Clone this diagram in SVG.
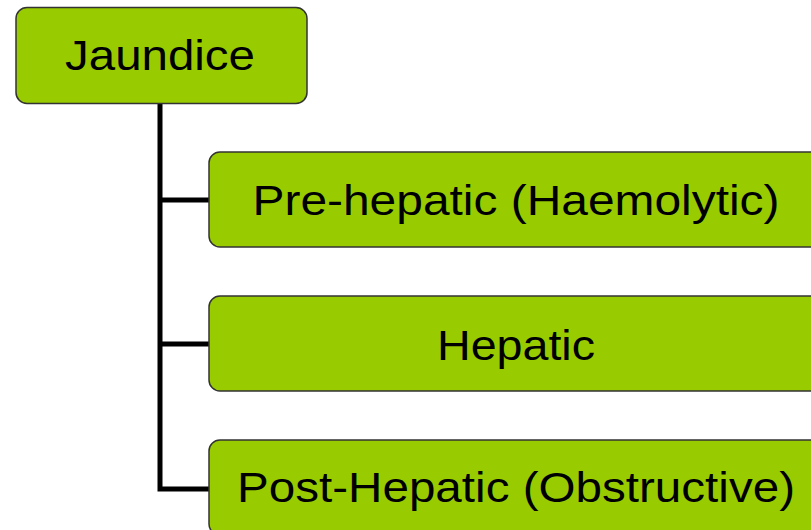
<svg xmlns="http://www.w3.org/2000/svg" width="811" height="530" viewBox="0 0 811 530">
  <style>
    .box { fill: #99cc00; stroke: #333333; stroke-width: 1.5; }
    .lbl { font-family: "Liberation Sans", Arial, sans-serif; font-size: 43px; fill: #000000; text-anchor: middle; }
    .conn { fill: none; stroke: #000000; stroke-width: 5; }
  </style>
  <rect width="811" height="530" fill="#ffffff"/>
  <g id="connectors">
    <path class="conn" d="M160,104 V489 H209"/>
    <path class="conn" d="M160,200 H209"/>
    <path class="conn" d="M160,344 H209"/>
  </g>
  <g id="jaundice">
    <rect class="box" x="16" y="7.5" width="291" height="96" rx="11" ry="11"/>
    <text class="lbl" x="160" y="70" textLength="190" lengthAdjust="spacingAndGlyphs">Jaundice</text>
  </g>
  <g id="prehepatic">
    <rect class="box" x="209" y="152" width="614" height="95" rx="11" ry="11"/>
    <text class="lbl" x="516" y="215" textLength="527" lengthAdjust="spacingAndGlyphs">Pre-hepatic (Haemolytic)</text>
  </g>
  <g id="hepatic">
    <rect class="box" x="209" y="296" width="614" height="95" rx="11" ry="11"/>
    <text class="lbl" x="516" y="360" textLength="158" lengthAdjust="spacingAndGlyphs">Hepatic</text>
  </g>
  <g id="posthepatic">
    <rect class="box" x="209" y="440" width="614" height="95" rx="11" ry="11"/>
    <text class="lbl" x="516" y="502" textLength="558" lengthAdjust="spacingAndGlyphs">Post-Hepatic (Obstructive)</text>
  </g>
</svg>
